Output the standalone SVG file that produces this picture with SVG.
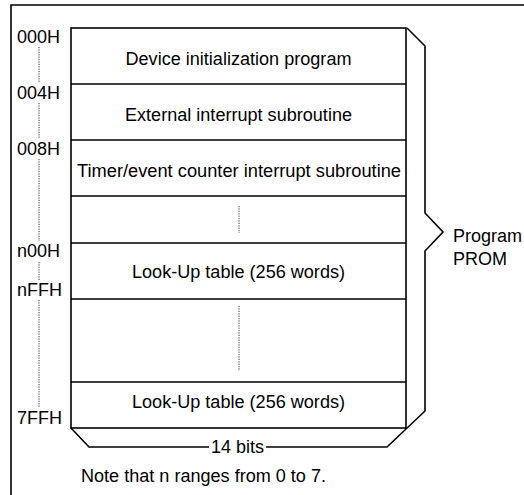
<svg xmlns="http://www.w3.org/2000/svg" width="524" height="495" viewBox="0 0 524 495">
<style>
.ln{fill:none;stroke:#000;stroke-width:1.6;stroke-linejoin:miter}
.dot{fill:none;stroke:#333;stroke-width:1;stroke-dasharray:1.2 1.2}
.t{font-family:"Liberation Sans",Arial,sans-serif;font-size:17.5px;fill:#000}
.l{font-family:"Liberation Sans",Arial,sans-serif;font-size:18px;fill:#000}
</style>
<rect width="524" height="495" fill="#fff"/>
<g id="frame">
<path class="ln" d="M11,495 V5 H524" stroke-width="1.5"/>
</g>
<g id="connectors">
<path class="ln" d="M407,28 L425,46 V213 L443,232 L425,251 V411 L387,447 H266"/>
<path class="ln" d="M71,428 L89,447 H209"/>
<path class="dot" d="M39,47 V83 M39,103 V139 M39,159 V241 M39,262 V280 M39,300 V407"/>
<path class="dot" d="M239,206 V233 M239,306 V371"/>
</g>
<g id="memory">
<rect class="ln" x="71" y="28" width="335" height="400"/>
<path class="ln" d="M71,84 H406 M71,140 H406 M71,196 H406 M71,243 H406 M71,299 H406 M71,382 H406"/>
</g>
<g id="row-init"><text class="t" x="238.5" y="65" text-anchor="middle" textLength="226" lengthAdjust="spacingAndGlyphs">Device initialization program</text></g>
<g id="row-ext"><text class="t" x="238.5" y="121" text-anchor="middle" textLength="227" lengthAdjust="spacingAndGlyphs">External interrupt subroutine</text></g>
<g id="row-timer"><text class="t" x="239" y="177" text-anchor="middle" textLength="324" lengthAdjust="spacingAndGlyphs">Timer/event counter interrupt subroutine</text></g>
<g id="row-lut1"><text class="t" x="238.5" y="278" text-anchor="middle" textLength="213" lengthAdjust="spacingAndGlyphs">Look-Up table (256 words)</text></g>
<g id="row-lut2"><text class="t" x="238.5" y="408" text-anchor="middle" textLength="213" lengthAdjust="spacingAndGlyphs">Look-Up table (256 words)</text></g>
<g id="labels">
<text class="l" x="17" y="43">000H</text>
<text class="l" x="17" y="99">004H</text>
<text class="l" x="17" y="155">008H</text>
<text class="l" x="17" y="257">n00H</text>
<text class="l" x="17" y="296">nFFH</text>
<text class="l" x="17" y="424">7FFH</text>
</g>
<g id="prom-label">
<text class="l" x="453" y="242">Program</text>
<text class="l" x="453" y="265">PROM</text>
</g>
<g id="width-label"><text class="t" x="237.5" y="453" text-anchor="middle" textLength="53" lengthAdjust="spacingAndGlyphs">14 bits</text></g>
<g id="note"><text class="t" x="81" y="482" textLength="245" lengthAdjust="spacingAndGlyphs">Note that n ranges from 0 to 7.</text></g>
</svg>
